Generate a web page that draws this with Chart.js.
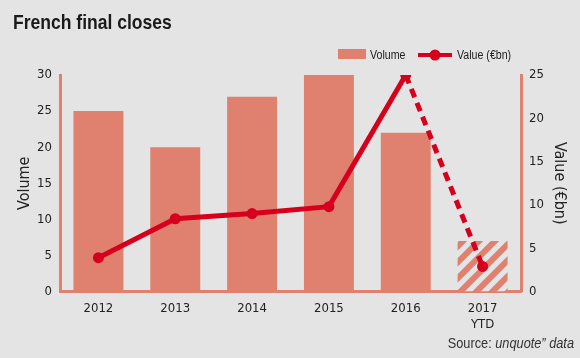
<!DOCTYPE html>
<html>
<head>
<meta charset="utf-8">
<script src="https://cdn.jsdelivr.net/npm/chart.js@4/dist/chart.umd.min.js"></script>
<style>
  html, body { margin: 0; padding: 0; background: #e4e4e4; }
  #wrap { width: 580px; height: 358px; position: relative; }
</style>
</head>
<body>
<div id="wrap"><canvas id="c" width="580" height="358"></canvas></div>
<script>
const categories = [["2012"], ["2013"], ["2014"], ["2015"], ["2016"], ["2017", "YTD"]];
const volumeValues = [25, 20, 27, 30, 22, 7];
const valueBn = [3.9, 8.4, 9.0, 9.8, 25, 2.9];
const volumeTicks = [0, 5, 10, 15, 20, 25, 30];
const valueTicks = [0, 5, 10, 15, 20, 25];

const TICKFONT = "'DejaVu Sans Condensed', 'Liberation Sans', sans-serif";
const TEXTFONT = "'Liberation Sans', Arial, sans-serif";
const BG = '#e4e4e4';
const SALMON = '#e0806f';
const RED = '#d7001c';
const TEXT = '#222222';

// diagonal hatch pattern for the YTD bar
function makeHatch() {
  const s = 16;
  const p = document.createElement('canvas');
  p.width = s; p.height = s;
  const g = p.getContext('2d');
  g.fillStyle = BG;
  g.fillRect(0, 0, s, s);
  g.strokeStyle = SALMON;
  g.lineWidth = 6;
  g.beginPath();
  g.moveTo(-s, s); g.lineTo(s, -s);
  g.moveTo(-s, 2 * s); g.lineTo(2 * s, -s);
  g.moveTo(0, 2 * s); g.lineTo(2 * s, 0);
  g.stroke();
  return g.createPattern(p, 'repeat');
}
const hatch = makeHatch();
const barColors = volumeValues.map((v, i) => i === volumeValues.length - 1 ? hatch : SALMON);

function narrowText(ctx, text, x, y, sx, align) {
  ctx.save();
  ctx.translate(x, y);
  ctx.scale(sx, 1);
  ctx.textAlign = align || 'left';
  ctx.fillText(text, 0, 0);
  ctx.restore();
}

const decor = {
  id: 'decor',
  beforeDraw(chart) {
    const ctx = chart.ctx;
    ctx.save();
    ctx.fillStyle = BG;
    ctx.fillRect(0, 0, chart.width, chart.height);
    ctx.restore();
  },
  afterDraw(chart) {
    const ctx = chart.ctx;
    ctx.save();
    // title
    ctx.fillStyle = '#1a1a1a';
    ctx.font = "bold 21px " + TEXTFONT;
    ctx.textBaseline = 'alphabetic';
    narrowText(ctx, 'French final closes', 13, 29, 0.835);

    // legend
    ctx.fillStyle = SALMON;
    ctx.fillRect(338, 49, 28, 10);
    ctx.fillStyle = TEXT;
    ctx.font = "12.5px " + TEXTFONT;
    ctx.textBaseline = 'alphabetic';
    narrowText(ctx, 'Volume', 370, 59, 0.85);
    ctx.strokeStyle = RED;
    ctx.lineWidth = 4;
    ctx.beginPath();
    ctx.moveTo(418, 55); ctx.lineTo(452, 55);
    ctx.stroke();
    ctx.fillStyle = RED;
    ctx.beginPath();
    ctx.arc(435, 55, 5.5, 0, Math.PI * 2);
    ctx.fill();
    ctx.fillStyle = TEXT;
    narrowText(ctx, 'Value (\u20acbn)', 457, 59, 0.85);

    // source
    const sx = 0.88;
    ctx.fillStyle = '#333';
    ctx.font = "italic 14.5px " + TEXTFONT;
    const italicPart = 'unquote\u201d data';
    const w = ctx.measureText(italicPart).width * sx;
    narrowText(ctx, italicPart, 574, 348, sx, 'right');
    ctx.font = "14.5px " + TEXTFONT;
    narrowText(ctx, 'Source: ', 574 - w, 348, sx, 'right');
    ctx.restore();
  }
};

new Chart(document.getElementById('c'), {
  data: {
    labels: categories,
    datasets: [
      {
        type: 'line',
        label: 'Value (\u20acbn)',
        data: valueBn,
        yAxisID: 'y1',
        borderColor: RED,
        backgroundColor: RED,
        borderWidth: 5,
        pointRadius: 5.5,
        pointHoverRadius: 5.5,
        pointBackgroundColor: RED,
        pointBorderWidth: 0,
        tension: 0,
        order: 0,
        segment: {
          borderDash: c => c.p1DataIndex === valueBn.length - 1 ? [9, 6] : undefined
        }
      },
      {
        type: 'bar',
        label: 'Volume',
        data: volumeValues,
        yAxisID: 'y',
        backgroundColor: barColors,
        borderWidth: 0,
        categoryPercentage: 1,
        barPercentage: 0.65,
        order: 1
      }
    ]
  },
  options: {
    responsive: false,
    animation: false,
    devicePixelRatio: 1,
    layout: { padding: { top: 75, left: 0, right: 0, bottom: 0 } },
    plugins: {
      legend: { display: false },
      title: { display: false },
      tooltip: { enabled: false }
    },
    scales: {
      x: {
        grid: { display: false, drawTicks: false },
        border: { display: true, color: SALMON, width: 3 },
        ticks: {
          color: TEXT,
          font: { family: TICKFONT, size: 13, lineHeight: 1.25 },
          padding: 9,
          maxRotation: 0
        },
        afterFit(s) { s.height = 66.5; }
      },
      y: {
        position: 'left',
        min: 0, max: 30,
        afterBuildTicks(s) { s.ticks = volumeTicks.map(v => ({ value: v })); },
        grid: { display: false, drawTicks: false },
        border: { display: true, color: SALMON, width: 3 },
        ticks: { color: TEXT, font: { family: TICKFONT, size: 13 }, padding: 8 },
        title: {
          display: true, text: 'Volume', color: TEXT,
          font: { family: TICKFONT, size: 16 }, padding: { top: 15, bottom: 0 }
        },
        afterFit(s) { s.width = 60; }
      },
      y1: {
        position: 'right',
        min: 0, max: 25,
        afterBuildTicks(s) { s.ticks = valueTicks.map(v => ({ value: v })); },
        grid: { display: false, drawTicks: false },
        border: { display: true, color: SALMON, width: 3 },
        ticks: { color: TEXT, font: { family: TICKFONT, size: 13 }, padding: 8 },
        title: {
          display: true, text: 'Value (\u20acbn)', color: TEXT,
          font: { family: TICKFONT, size: 16 }, padding: { top: 11, bottom: 0 }
        },
        afterFit(s) { s.width = 59; }
      }
    }
  },
  plugins: [decor]
});
</script>
</body>
</html>
